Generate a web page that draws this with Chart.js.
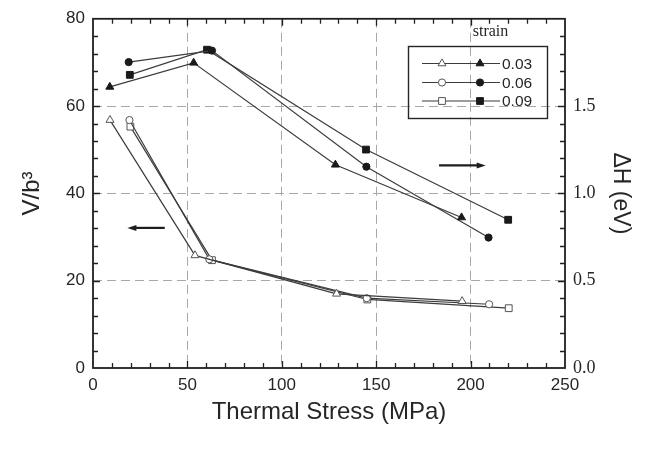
<!DOCTYPE html>
<html>
<head>
<meta charset="utf-8">
<title>Thermal stress vs activation volume / enthalpy</title>
<script src="https://cdn.jsdelivr.net/npm/chart.js@4.4.1/dist/chart.umd.min.js"></script>
<style>
    html, body { margin: 0; padding: 0; background: #ffffff; }
    #wrap { width: 661px; height: 460px; position: relative; }
</style>
</head>
<body>
<div id="wrap"><canvas id="chartStress" width="661" height="460"></canvas></div>
<script>
// Datos
// Volumen de activación V/b^3 (símbolos abiertos, eje izquierdo)
const triOpenX = [9, 54, 129, 195.5];
const triOpenY = [56.8, 25.8, 17.0, 15.3];
const circOpenX = [19.3, 61.6, 145, 209.8];
const circOpenY = [56.8, 24.9, 16.0, 14.6];
const sqOpenX = [19.8, 63, 145.3, 220.2];
const sqOpenY = [55.3, 24.7, 15.7, 13.7];

// Entalpía ΔH en eV (símbolos llenos, eje derecho)
const triFillX = [8.9, 53.3, 128.4, 195.2];
const triFillY = [1.61, 1.748, 1.164, 0.862];
const circFillX = [18.9, 63, 144.8, 209.5];
const circFillY = [1.752, 1.818, 1.153, 0.747];
const sqFillX = [19.5, 60.4, 144.6, 219.9];
const sqFillY = [1.679, 1.823, 1.251, 0.849];

const strainLabels = ['0.03', '0.06', '0.09'];
const xTicks = [0, 50, 100, 150, 200, 250];
const yTicks = [0, 20, 40, 60, 80];
const y1Ticks = [0, 0.5, 1.0, 1.5];

const SANS = '"Liberation Sans", Arial, Helvetica, sans-serif';
const SERIF = '"Liberation Serif", "Times New Roman", serif';
const INK = '#262626';
const LINE = '#3c3c3c';

function toPoints(xs, ys) {
    return xs.map((x, i) => ({ x: x, y: ys[i] }));
}

function serie(label, xs, ys, estilo, lleno, eje, radio) {
    return {
        label: label,
        data: toPoints(xs, ys),
        yAxisID: eje,
        borderColor: LINE,
        borderWidth: 1.2,
        pointStyle: estilo,
        pointRadius: radio,
        pointBorderWidth: 1,
        pointBorderColor: lleno ? '#1a1a1a' : '#555555',
        pointBackgroundColor: lleno ? '#1a1a1a' : '#ffffff',
        tension: 0,
        fill: false
    };
}

// Marco con marcas menores hacia dentro
function dibujarMarco(chart) {
    const { ctx, chartArea: a, scales } = chart;
    ctx.save();
    ctx.strokeStyle = '#202020';
    ctx.lineWidth = 1.3;
    ctx.beginPath();
    // eje x: cada 10 MPa, abajo y arriba
    for (let v = 10; v < 250; v += 10) {
        const px = Math.round(scales.x.getPixelForValue(v)) + 0.5;
        const len = v % 50 === 0 ? 7 : 5;
        ctx.moveTo(px, a.bottom); ctx.lineTo(px, a.bottom - len);
        ctx.moveTo(px, a.top); ctx.lineTo(px, a.top + len);
    }
    // eje izquierdo: cada 4
    for (let v = 4; v < 80; v += 4) {
        const py = Math.round(scales.y.getPixelForValue(v)) + 0.5;
        const len = v % 20 === 0 ? 7 : 5;
        ctx.moveTo(a.left, py); ctx.lineTo(a.left + len, py);
    }
    // eje derecho: cada 0.1 eV
    for (let i = 1; i < 20; i++) {
        const py = Math.round(scales.y1.getPixelForValue(i / 10)) + 0.5;
        const len = i % 5 === 0 ? 7 : 5;
        ctx.moveTo(a.right, py); ctx.lineTo(a.right - len, py);
    }
    ctx.stroke();
    ctx.lineWidth = 1.8;
    ctx.strokeRect(a.left, a.top, a.right - a.left, a.bottom - a.top);
    ctx.restore();
}

// Flechas que indican el eje de cada grupo
function dibujarFlecha(ctx, x0, x1, y) {
    const dir = Math.sign(x1 - x0);
    ctx.strokeStyle = '#1e1e1e';
    ctx.fillStyle = '#1e1e1e';
    ctx.lineWidth = 2.2;
    ctx.beginPath();
    ctx.moveTo(x0, y); ctx.lineTo(x1 - dir * 6, y);
    ctx.stroke();
    ctx.beginPath();
    ctx.moveTo(x1, y);
    ctx.lineTo(x1 - dir * 9, y - 3);
    ctx.lineTo(x1 - dir * 9, y + 3);
    ctx.closePath();
    ctx.fill();
}

// Leyenda con símbolo abierto y lleno por cada deformación
function dibujarLeyenda(ctx) {
    ctx.fillStyle = INK;
    ctx.font = '16px ' + SERIF;
    ctx.textAlign = 'center';
    ctx.textBaseline = 'middle';
    ctx.fillText('strain', 490.5, 32);

    ctx.strokeStyle = INK;
    ctx.lineWidth = 1.4;
    ctx.strokeRect(408.5, 46.5, 139, 72);

    const estilos = ['triangle', 'circle', 'rect'];
    const radios = [4.6, 3.6, 4.8];
    const filas = [63.5, 82.5, 101];
    ctx.font = '15.5px ' + SANS;
    ctx.textAlign = 'left';
    filas.forEach((yy, i) => {
        ctx.strokeStyle = LINE;
        ctx.lineWidth = 1.2;
        ctx.beginPath();
        ctx.moveTo(422, yy); ctx.lineTo(500, yy);
        ctx.stroke();
        ctx.lineWidth = 1;
        ctx.strokeStyle = '#555555';
        ctx.fillStyle = '#ffffff';
        Chart.helpers.drawPoint(ctx, { pointStyle: estilos[i], radius: radios[i], borderWidth: 1, rotation: 0 }, 442, yy);
        ctx.strokeStyle = '#1a1a1a';
        ctx.fillStyle = '#1a1a1a';
        Chart.helpers.drawPoint(ctx, { pointStyle: estilos[i], radius: radios[i], borderWidth: 1, rotation: 0 }, 480, yy);
        ctx.fillStyle = INK;
        ctx.fillText(strainLabels[i], 502, yy + 1);
    });
}

const decoracionPlugin = {
    id: 'decoracion',
    afterDraw(chart) {
        const { ctx, scales } = chart;
        dibujarMarco(chart);
        ctx.save();
        dibujarFlecha(ctx, scales.x.getPixelForValue(38), scales.x.getPixelForValue(18.2), scales.y.getPixelForValue(32.1));
        dibujarFlecha(ctx, scales.x.getPixelForValue(183.3), scales.x.getPixelForValue(208), scales.y1.getPixelForValue(1.16));
        dibujarLeyenda(ctx);
        ctx.restore();
    }
};

const gridColor = (ctx, extremos) =>
    extremos.includes(ctx.tick && ctx.tick.value) ? 'rgba(0,0,0,0)' : '#a8a8a8';

new Chart(document.getElementById('chartStress').getContext('2d'), {
    type: 'line',
    data: {
        datasets: [
            serie('0.03 V', triOpenX, triOpenY, 'triangle', false, 'y', 4.6),
            serie('0.06 V', circOpenX, circOpenY, 'circle', false, 'y', 3.6),
            serie('0.09 V', sqOpenX, sqOpenY, 'rect', false, 'y', 4.8),
            serie('0.03 ΔH', triFillX, triFillY, 'triangle', true, 'y1', 4.6),
            serie('0.06 ΔH', circFillX, circFillY, 'circle', true, 'y1', 3.6),
            serie('0.09 ΔH', sqFillX, sqFillY, 'rect', true, 'y1', 4.8)
        ]
    },
    options: {
        responsive: false,
        animation: false,
        devicePixelRatio: 1,
        layout: { padding: { top: 13, left: 0, right: 0, bottom: 0 } },
        plugins: {
            legend: { display: false },
            tooltip: { enabled: false }
        },
        scales: {
            x: {
                type: 'linear',
                min: 0,
                max: 250,
                afterBuildTicks: s => { s.ticks = xTicks.map(v => ({ value: v })); },
                afterFit: s => { s.height = 92; },
                ticks: { color: INK, padding: 7, font: { family: SANS, size: 17 } },
                grid: { drawTicks: false, lineWidth: 1, color: c => gridColor(c, [0, 250]) },
                border: { display: false, dash: [9, 5] },
                title: {
                    display: true,
                    text: 'Thermal Stress (MPa)',
                    color: INK,
                    font: { family: SANS, size: 24 },
                    padding: { top: 0, bottom: 33 }
                }
            },
            y: {
                type: 'linear',
                position: 'left',
                min: 0,
                max: 80,
                afterBuildTicks: s => { s.ticks = yTicks.map(v => ({ value: v })); },
                afterFit: s => { s.width = 93; },
                ticks: { color: INK, padding: 8, font: { family: SANS, size: 17 } },
                grid: { drawTicks: false, lineWidth: 1, color: c => gridColor(c, [0, 80]) },
                border: { display: false, dash: [9, 5] },
                title: {
                    display: true,
                    text: 'V/b³',
                    color: INK,
                    font: { family: SANS, size: 24 },
                    padding: { top: 18, bottom: 0 }
                }
            },
            y1: {
                type: 'linear',
                position: 'right',
                min: 0,
                max: 2,
                afterBuildTicks: s => { s.ticks = y1Ticks.map(v => ({ value: v })); },
                afterFit: s => { s.width = 96; },
                ticks: {
                    color: INK,
                    padding: 8,
                    font: { family: SERIF, size: 18 },
                    callback: v => Number(v).toFixed(1)
                },
                grid: { display: false, drawTicks: false },
                border: { display: false },
                title: {
                    display: true,
                    text: 'ΔH (eV)',
                    color: INK,
                    font: { family: SANS, size: 23 },
                    padding: { top: 27, bottom: 0 }
                }
            }
        }
    },
    plugins: [decoracionPlugin]
});
</script>
</body>
</html>
